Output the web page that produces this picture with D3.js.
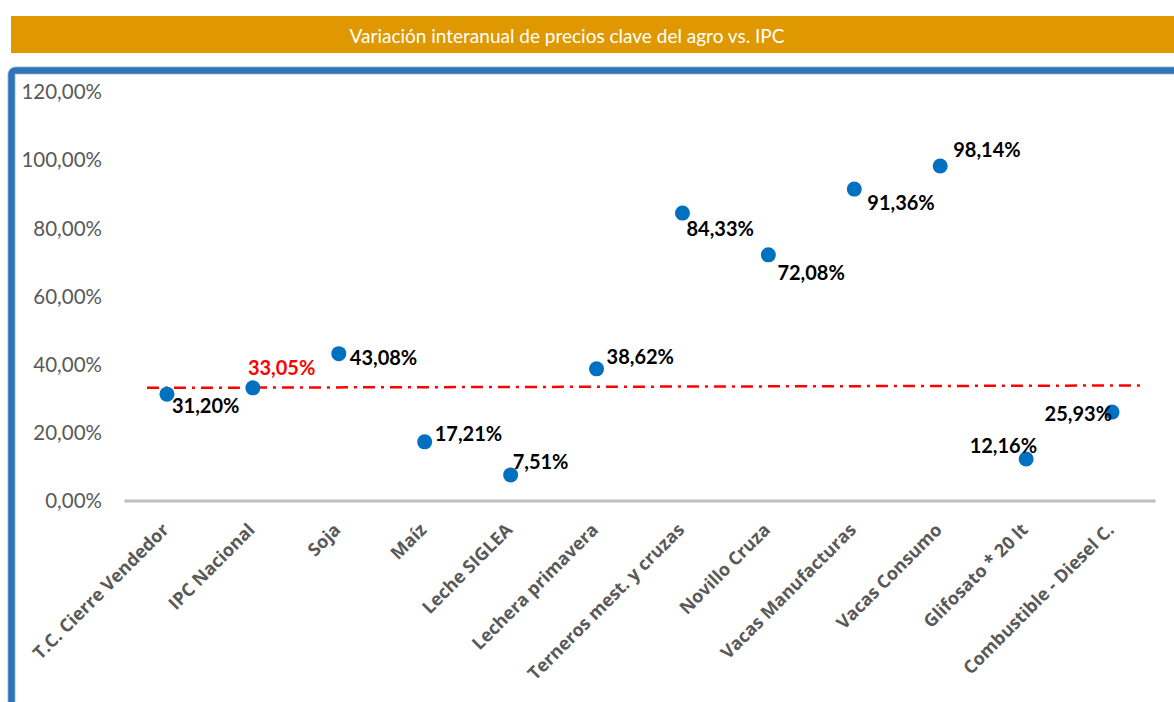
<!DOCTYPE html>
<html>
<head>
<meta charset="utf-8">
<script src="https://cdn.jsdelivr.net/npm/d3@7"></script>
<style>
  html, body { margin: 0; padding: 0; background: #ffffff; }
  svg { display: block; }
</style>
</head>
<body>
<svg id="chart" width="1174" height="702"></svg>
<script>
// ---- data ----
const title = "Variación interanual de precios clave del agro vs. IPC";
const categories = [
  "T.C. Cierre Vendedor", "IPC Nacional", "Soja", "Maíz", "Leche SIGLEA",
  "Lechera primavera", "Terneros mest. y cruzas", "Novillo Cruza",
  "Vacas Manufacturas", "Vacas Consumo", "Glifosato * 20 lt", "Combustible - Diesel C."
];
const values = [31.20, 33.05, 43.08, 17.21, 7.51, 38.62, 84.33, 72.08, 91.36, 98.14, 12.16, 25.93];
const yTicks = [0, 20, 40, 60, 80, 100, 120];
const ipcLine = [33.05, 33.75]; // reference line values at left and right ends
const highlightIndex = 1;       // IPC Nacional label in red

// label placement (layout only)
const labelPlacement = [
  {a: "start", dx: 5,  dy: 12},
  {a: "start", dx: -5, dy: -20},
  {a: "start", dx: 11, dy: 4},
  {a: "start", dx: 10, dy: -8},
  {a: "start", dx: 2,  dy: -13},
  {a: "start", dx: 10, dy: -12},
  {a: "start", dx: 4,  dy: 16},
  {a: "start", dx: 9,  dy: 18},
  {a: "start", dx: 13, dy: 14},
  {a: "start", dx: 13, dy: -16},
  {a: "end",   dx: 11, dy: -13},
  {a: "end",   dx: 0,  dy: 2}
];

const svg = d3.select("#chart");
const loc = d3.formatLocale({decimal: ",", thousands: ".", grouping: [3], currency: ["", ""]});
const fmt = v => loc.format(".2f")(v) + "%";

// ---- title bar ----
svg.append("rect").attr("x", 11).attr("y", 16).attr("width", 1163).attr("height", 37).attr("fill", "#DF9800");
svg.append("text").attr("x", 567).attr("y", 35).attr("text-anchor", "middle")
  .attr("dominant-baseline", "central")
  .attr("font-family", "Lato, sans-serif").attr("font-weight", 400).attr("font-size", 19)
  .attr("fill", "#ffffff").text(title);

// ---- frame ----
svg.append("rect").attr("x", 11.5).attr("y", 70.5).attr("width", 1300).attr("height", 800).attr("rx", 4)
  .attr("fill", "none").attr("stroke", "#BDD7EE").attr("stroke-width", 8.5);
svg.append("rect").attr("x", 11.5).attr("y", 70.5).attr("width", 1300).attr("height", 800).attr("rx", 4)
  .attr("fill", "none").attr("stroke", "#2E75B6").attr("stroke-width", 6.5);

// ---- scales ----
const x = d3.scaleBand().domain(categories).range([124, 1155]);
const y = d3.scaleLinear().domain([0, 120]).range([500.5, 91.5]);
const cx = c => x(c) + x.bandwidth() / 2;

// ---- y axis ----
const yAxis = svg.append("g").attr("transform", "translate(102,0)")
  .call(d3.axisLeft(y).tickValues(yTicks).tickSize(0).tickPadding(0).tickFormat(fmt));
yAxis.select(".domain").remove();
yAxis.selectAll("text").attr("font-family", "Lato, sans-serif").attr("font-size", 20.5)
  .attr("fill", "#595959").attr("text-anchor", "end").attr("dy", "0.35em");

// ---- x axis ----
const xAxis = svg.append("g").attr("transform", `translate(0,${y(0)})`)
  .call(d3.axisBottom(x).tickSize(0).tickPadding(0));
xAxis.attr("font-family", null);
xAxis.select(".domain").attr("stroke", "#BFBFBF").attr("stroke-width", 3);
xAxis.selectAll("text")
  .style("font-family", "\"Open Sans\", sans-serif").style("font-weight", "700").style("font-size", "18px")
  .attr("fill", "#595959").attr("text-anchor", "end").attr("dy", 0).attr("y", 0)
  .attr("transform", `translate(3,${531 - y(0)}) rotate(-45)`);

// ---- IPC reference line ----
svg.append("line")
  .attr("x1", cx(categories[0]) - 20).attr("y1", y(ipcLine[0]))
  .attr("x2", cx(categories[categories.length - 1]) + 28).attr("y2", y(ipcLine[1]))
  .attr("stroke", "#FF0000").attr("stroke-width", 2.5)
  .attr("stroke-dasharray", "12,6,3,6");

// ---- points ----
svg.append("g").selectAll("circle").data(values).join("circle")
  .attr("cx", (d, i) => cx(categories[i])).attr("cy", d => y(d))
  .attr("r", 7.5).attr("fill", "#0070C0");

// ---- data labels ----
svg.append("g").selectAll("text").data(values).join("text")
  .attr("x", (d, i) => cx(categories[i]) + labelPlacement[i].dx)
  .attr("y", (d, i) => y(d) + labelPlacement[i].dy)
  .attr("dy", "0.35em")
  .attr("text-anchor", (d, i) => labelPlacement[i].a)
  .attr("font-family", "Lato, sans-serif").attr("font-weight", 700).attr("font-size", 20)
  .attr("fill", (d, i) => i === highlightIndex ? "#FF0000" : "#000000")
  .text(d => fmt(d));
</script>
</body>
</html>
